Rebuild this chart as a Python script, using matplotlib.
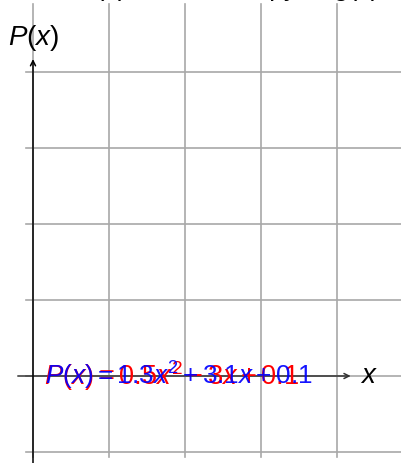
import matplotlib
matplotlib.use("Agg")
import matplotlib.pyplot as plt

plt.rcParams['mathtext.fontset'] = 'custom'
plt.rcParams['mathtext.rm'] = 'Liberation Sans'
plt.rcParams['mathtext.it'] = 'Liberation Sans:italic'
plt.rcParams['font.family'] = 'Liberation Sans'

# data
grid_x = [0, 1, 2, 3, 4]
grid_y = [-1, 0, 1, 2, 3, 4]
title_text = "Plot of P(x) versus a copy of g(x)"
ylabel_text = r"$P(x)$"
xlabel_text = r"$x$"
formula_red = r"$P(x) = 0.5x^2 - 3x + 0.1$"
formula_blue = r"$P(x) = 1.3x^2 + 3.1x + 0.1$"

W, H = 401, 464
unit = 76.0
ox, oy = 33.0, 377.0
fig = plt.figure(figsize=(W / 100, H / 100), dpi=100)
ax = fig.add_axes([0, 0, 1, 1])
ax.set_xlim(-ox / unit, (W - ox) / unit)
ax.set_ylim(-(H - oy) / unit, oy / unit)
ax.axis('off')

gcol = '#a8a8a8'
for gx in grid_x:
    ax.plot([gx, gx], [-1.07, 4.9], color=gcol, lw=1.2, zorder=1)
for gy in grid_y:
    ax.plot([-0.09, 4.9], [gy, gy], color=gcol, lw=1.2, zorder=1)

# axes with open arrows
ax.annotate('', xy=(4.18, 0), xytext=(-0.2, 0),
            arrowprops=dict(arrowstyle='->', lw=1.1, color='#333333',
                            mutation_scale=9, shrinkA=0, shrinkB=0), zorder=3)
ax.annotate('', xy=(0, 4.17), xytext=(0, -1.3),
            arrowprops=dict(arrowstyle='->', lw=1.1, color='black',
                            mutation_scale=9, shrinkA=0, shrinkB=0), zorder=3)

ax.text(-0.33, 4.37, ylabel_text, fontsize=20, color='black', ha='left', va='baseline')
ax.text(4.30, -0.08, xlabel_text, fontsize=20, color='black', ha='left', va='baseline')

ax.text(0.14, -0.1, formula_red, fontsize=19.5, color='#ff0000', ha='left', va='baseline', zorder=4)
ax.text(0.16, -0.1, formula_blue, fontsize=18.8, color='#0000ff', alpha=0.92,
        ha='left', va='baseline', zorder=5)

fig.text(-0.01, 1.0 + 4.0 / H, title_text, fontsize=19, ha='left', va='baseline')

fig.savefig('out.png', dpi=100)
